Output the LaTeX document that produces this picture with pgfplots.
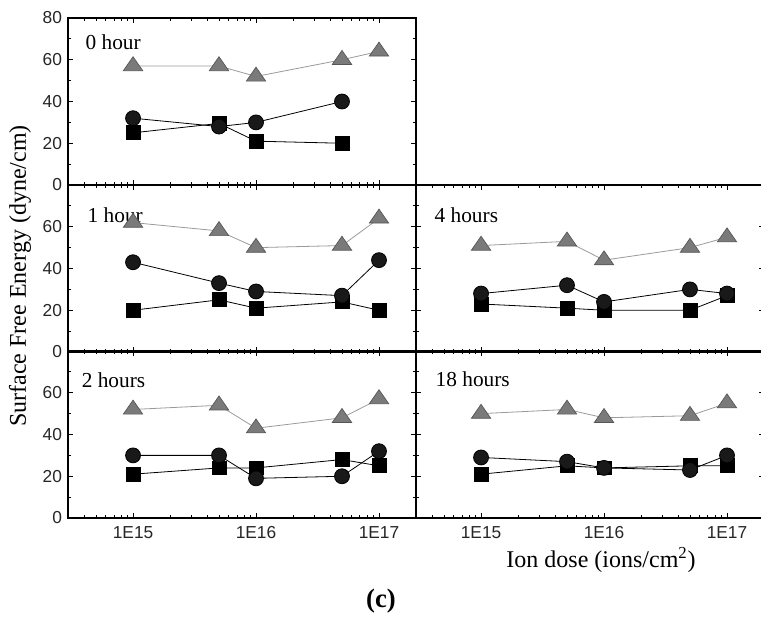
\documentclass[border=0pt]{standalone}
\usepackage{pgfplots}
\pgfplotsset{compat=1.18}
\usepackage{fontspec}
\setmainfont{Liberation Serif}
\setsansfont{Liberation Sans}
\definecolor{trifill}{HTML}{7A7A7A}
\definecolor{triedge}{HTML}{555555}
\definecolor{triline}{HTML}{9A9A9A}
\pgfkeys{/pgf/number format/assume math mode=true}
\pgfplotsset{
  every axis/.append style={
    scale only axis, width=261pt, height=125.25pt,
    xmin=2.96e14, xmax=2e17, ymin=0, ymax=80,
    xtick={1e15,1e16,1e17},
    minor xtick={4e14,5e14,6e14,7e14,8e14,9e14,2e15,3e15,4e15,5e15,6e15,7e15,8e15,9e15,2e16,3e16,4e16,5e16,6e16,7e16,8e16,9e16,2e17},
    ytick={0,20,40,60,80}, minor ytick={10,30,50,70},
    tick align=inside, major tick length=4pt, minor tick length=2.5pt,
    axis line style={line width=1.1pt},
    tick style={black, line width=0.7pt},
    ticklabel style={font=\sffamily\fontsize{13}{14}\selectfont, text=black!85},
    x tick label style={yshift=-5pt, inner sep=1pt},
    y tick label style={xshift=-1pt},
    clip=false,
  },
}
\tikzset{
  sfetri/.style={triline, line width=0.6pt, mark=triangle*, mark size=7pt,
    mark options={fill=trifill, draw=triedge, line width=0.5pt, xscale=1.2}},
  sfecir/.style={black, line width=0.6pt, mark=*, mark size=5.6pt, mark options={fill=black!90}},
  sfesqr/.style={black, line width=0.6pt, mark=square*, mark size=5.2pt, mark options={fill=black}},
  sfelab/.style={font=\fontsize{16}{18}\selectfont, anchor=base west},
}
\begin{document}
\begin{tikzpicture}
\begin{scope}[x=0.75pt,y=-0.75pt]
\coordinate (p0) at (68,185);
\coordinate (p1) at (68,352);
\coordinate (p2) at (68,518);
\coordinate (p3) at (416,352);
\coordinate (p4) at (416,518);
\coordinate (ylab) at (20,276);
\coordinate (xlab) at (601,560);
\coordinate (clab) at (381,601);
\coordinate (bb1) at (0,0);
\coordinate (bb2) at (761,629);
\end{scope}
% 0 hour
\begin{semilogxaxis}[at={(p0)}, anchor=south west, yticklabels={0,20,40,60,80}, xticklabels={}]
\addplot[sfetri] coordinates {(1e15,57)(5e15,57)(1e16,52)(5e16,60)(1e17,64)};
\addplot[sfesqr] coordinates {(1e15,25)(5e15,29.5)(1e16,21)(5e16,20)};
\addplot[sfecir] coordinates {(1e15,32)(5e15,28)(1e16,30)(5e16,40)};
\node[sfelab] at (rel axis cs:0.037,0.814) {0 hour};
\end{semilogxaxis}
% 1 hour
\begin{semilogxaxis}[at={(p1)}, anchor=south west, yticklabels={0,20,40,60,{}}, xticklabels={}]
\addplot[sfetri] coordinates {(1e15,62)(5e15,58)(1e16,50)(5e16,51)(1e17,64)};
\addplot[sfesqr] coordinates {(1e15,20)(5e15,25)(1e16,21)(5e16,24)(1e17,20)};
\addplot[sfecir] coordinates {(1e15,43)(5e15,33)(1e16,29)(5e16,27)(1e17,44)};
\node[sfelab] at (rel axis cs:0.043,0.778) {1 hour};
\end{semilogxaxis}
% 2 hours
\begin{semilogxaxis}[at={(p2)}, anchor=south west, yticklabels={0,20,40,60,{}},
  xticklabels={1E15,1E16,1E17}]
\addplot[sfetri] coordinates {(1e15,52)(5e15,54)(1e16,43)(5e16,48)(1e17,57)};
\addplot[sfesqr] coordinates {(1e15,21)(5e15,24)(1e16,24)(5e16,28)(1e17,25)};
\addplot[sfecir] coordinates {(1e15,30)(5e15,30)(1e16,19)(5e16,20)(1e17,32)};
\node[sfelab] at (rel axis cs:0.026,0.784) {2 hours};
\end{semilogxaxis}
% 4 hours
\begin{semilogxaxis}[at={(p3)}, anchor=south west, yticklabels={}, xticklabels={}]
\addplot[sfetri] coordinates {(1e15,51)(5e15,53)(1e16,44)(5e16,50)(1e17,55)};
\addplot[sfesqr] coordinates {(1e15,23)(5e15,21)(1e16,20)(5e16,20)(1e17,27)};
\addplot[sfecir] coordinates {(1e15,28)(5e15,32)(1e16,24)(5e16,30)(1e17,28)};
\node[sfelab] at (rel axis cs:0.04,0.778) {4 hours};
\end{semilogxaxis}
% 18 hours
\begin{semilogxaxis}[at={(p4)}, anchor=south west, yticklabels={},
  xticklabels={1E15,1E16,1E17}]
\addplot[sfetri] coordinates {(1e15,50)(5e15,52)(1e16,48)(5e16,49)(1e17,55)};
\addplot[sfesqr] coordinates {(1e15,21)(5e15,25)(1e16,24)(5e16,25)(1e17,25)};
\addplot[sfecir] coordinates {(1e15,29)(5e15,27)(1e16,24)(5e16,23)(1e17,30)};
\node[sfelab] at (rel axis cs:0.043,0.79) {18 hours};
\end{semilogxaxis}
\node[rotate=90, font=\fontsize{18}{20}\selectfont] at (ylab) {Surface Free Energy (dyne/cm)};
\node[font=\fontsize{18}{20}\selectfont, inner sep=0pt] at (xlab) {Ion dose (ions/cm\textsuperscript{2})};
\node[font=\bfseries\fontsize{20}{22}\selectfont] at (clab) {(c)};
\pgfresetboundingbox
\useasboundingbox (bb1) rectangle (bb2);
\end{tikzpicture}
\end{document}
